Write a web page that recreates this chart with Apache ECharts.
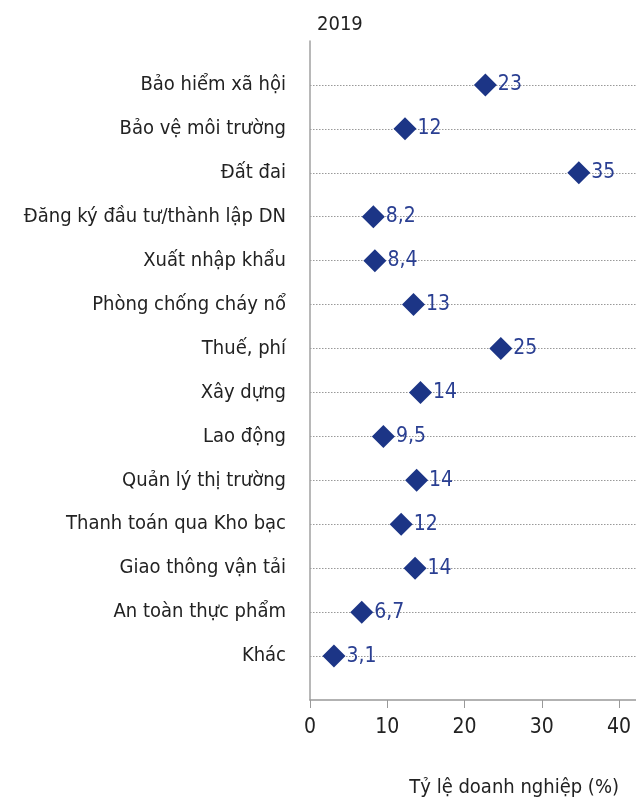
<!DOCTYPE html>
<html>
<head>
<meta charset="utf-8">
<script src="https://cdn.jsdelivr.net/npm/echarts@6/dist/echarts.min.js"></script>
<style>
    html, body { margin: 0; padding: 0; background: #fff; }
    #chart { width: 636px; height: 803px; }
</style>
</head>
<body>
<div id="chart"></div>
<script>
    // 数据
    const categories = [
        'Bảo hiểm xã hội', 'Bảo vệ môi trường', 'Đất đai', 'Đăng ký đầu tư/thành lập DN',
        'Xuất nhập khẩu', 'Phòng chống cháy nổ', 'Thuế, phí', 'Xây dựng', 'Lao động',
        'Quản lý thị trường', 'Thanh toán qua Kho bạc', 'Giao thông vận tải',
        'An toàn thực phẩm', 'Khác'
    ];
    const values = [22.7, 12.3, 34.8, 8.2, 8.4, 13.4, 24.7, 14.3, 9.5, 13.8, 11.8, 13.6, 6.7, 3.1];
    const xTicks = [0, 10, 20, 30, 40];

    const font = '"DejaVu Sans Condensed", "Liberation Sans Narrow", Roboto, sans-serif';

    function fmt(v) {
        return v >= 10 ? String(Math.round(v)) : v.toFixed(1).replace('.', ',');
    }

    let myChart = echarts.init(document.getElementById('chart'));

    let option = {
        animation: false,
        title: [
            {
                text: '2019',
                left: 312,
                top: 10,
                textStyle: { fontFamily: font, fontSize: 20, fontWeight: 'normal', color: '#222' }
            },
            {
                text: 'Tỷ lệ doanh nghiệp (%)',
                right: 12,
                top: 773,
                textStyle: { fontFamily: font, fontSize: 20, fontWeight: 'normal', color: '#222' }
            }
        ],
        grid: { left: 310, right: 0, top: 41, bottom: 103 },
        xAxis: {
            type: 'value',
            min: 0,
            max: 42.2,
            interval: 10,
            axisLine: { show: true, onZero: false, lineStyle: { color: '#999', width: 1.5 } },
            axisTick: { show: true, length: 8, customValues: xTicks, lineStyle: { color: '#999' } },
            axisLabel: {
                margin: 17,
                fontFamily: font,
                fontSize: 21,
                color: '#222',
                customValues: xTicks
            },
            splitLine: { show: false }
        },
        yAxis: {
            type: 'value',
            inverse: true,
            min: -1,
            max: 14,
            interval: 1,
            axisLine: { show: true, onZero: false, lineStyle: { color: '#a0a0a0', width: 1.5 } },
            axisTick: { show: false },
            axisLabel: {
                margin: 24,
                fontFamily: font,
                fontSize: 20,
                color: '#222',
                formatter: function (v) { return categories[v] || ''; }
            },
            splitLine: {
                show: true,
                showMinLine: false,
                showMaxLine: false,
                lineStyle: { color: '#999', type: [1.5, 1.5], width: 1 }
            }
        },
        series: [
            {
                type: 'scatter',
                symbol: 'diamond',
                symbolSize: 23,
                itemStyle: { color: '#1c3586', opacity: 1 },
                data: values.map((v, i) => [v, i]),
                label: {
                    show: true,
                    position: 'right',
                    distance: 1,
                    fontFamily: font,
                    fontSize: 21,
                    color: '#2a3f92',
                    formatter: p => fmt(p.value[0])
                },
                z: 5
            }
        ]
    };

    myChart.setOption(option);
</script>
</body>
</html>
